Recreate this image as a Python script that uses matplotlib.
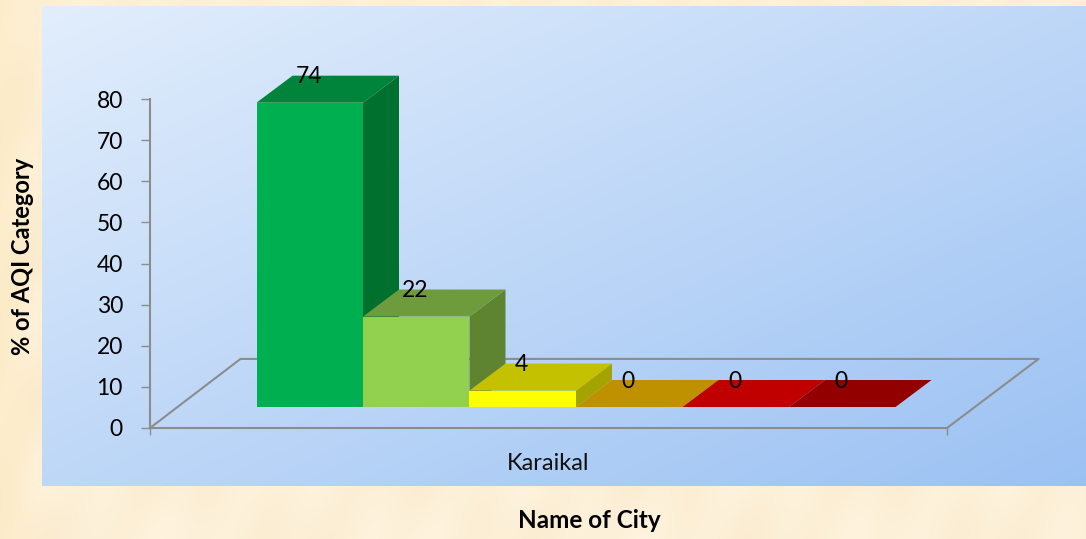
#!/usr/bin/env python3
import numpy as np
import matplotlib
matplotlib.use('Agg')
import matplotlib.pyplot as plt
from matplotlib.patches import Polygon

WIDTH, HEIGHT = 1086, 539

city = ["Karaikal"]
aqi_category = ["Good", "Satisfactory", "Moderate", "Poor", "Very Poor", "Severe"]
aqi_values = [74, 22, 4, 0, 0, 0]
front_colors = ["#00B050", "#92D050", "#FFFF00", "#FFC000", "#FF0000", "#C00000"]
top_colors = ["#00833B", "#6E9C3C", "#C4C200", "#BF9000", "#C00000", "#920000"]
side_colors = ["#00702F", "#5E8431", "#A5A300", "#A67D00", "#A60000", "#7A0000"]
y_ticks = [0, 10, 20, 30, 40, 50, 60, 70, 80]

plt.rcParams['font.family'] = ['Lato', 'DejaVu Sans']


def background(ax):
    # cream page with a soft mottling
    yy, xx = np.mgrid[0:HEIGHT, 0:WIDTH]
    mottle = np.sin(xx / 37.0) * np.sin(yy / 23.0) + 0.6 * np.sin(xx / 11.0 + yy / 29.0)
    left = np.clip(1 - xx / 60.0, 0, 1)
    page = np.zeros((HEIGHT, WIDTH, 3))
    page[..., 0] = 253 + 1.0 * mottle
    page[..., 1] = 240 + 2.0 * mottle - 4 * left
    page[..., 2] = 216 + 4.0 * mottle - 14 * left

    # blue diagonal gradient panel
    x0, x1, y0, y1 = 42, WIDTH, 6, 486
    t = ((xx - x0) / (x1 - x0) + (yy - y0) / (y1 - y0)) / 2
    start = np.array([226, 238, 252])
    end = np.array([155, 193, 243])
    panel = start + t[..., None] * (end - start)
    mask = (xx >= x0) & (yy >= y0) & (yy < y1)
    page[mask] = panel[mask]

    ax.imshow(page.astype(np.uint8), aspect='auto', extent=(0, 1, 0, 1))
    ax.axis('off')


def draw_bars(ax, values):
    # one x unit is one bar width, depth shift is the same for all bars
    depth_x, depth_y = 0.338, 6.57
    base_x, base_y = 1.0, 5.1
    for i, value in enumerate(values):
        x0 = base_x + i
        x1 = x0 + 1
        y0 = base_y
        y1 = base_y + value
        if value > 0:
            ax.add_patch(Polygon([(x0, y0), (x1, y0), (x1, y1), (x0, y1)], fc=front_colors[i], ec='none',
                                 zorder=3 + i, clip_on=False))
            ax.add_patch(Polygon([(x1, y0), (x1 + depth_x, y0 + depth_y), (x1 + depth_x, y1 + depth_y), (x1, y1)],
                                 fc=side_colors[i], ec='none', zorder=3 + i, clip_on=False))
        ax.add_patch(Polygon([(x0, y1), (x1, y1), (x1 + depth_x, y1 + depth_y), (x0 + depth_x, y1 + depth_y)],
                             fc=top_colors[i], ec='none', zorder=3 + i, clip_on=False))
        ax.text(x0 + 0.49, y1 + depth_y - 0.3, str(value), ha='center', va='center', fontsize=16.5,
                color='black', zorder=20)


fig = plt.figure(figsize=(WIDTH / 100, HEIGHT / 100), dpi=100)
bg = fig.add_axes([0, 0, 1, 1])
background(bg)

left, right, bottom, top = 150, 947, 428, 99
ax = fig.add_axes([left / WIDTH, 1 - bottom / HEIGHT, (right - left) / WIDTH, (bottom - top) / HEIGHT])
ax.patch.set_visible(False)
x_max = (right - left) / 106.5
ax.set_xlim(0, x_max)
ax.set_ylim(0, 80)

for name in ['top', 'right']:
    ax.spines[name].set_visible(False)
for name in ['left', 'bottom']:
    ax.spines[name].set_color('#8C8C8C')
    ax.spines[name].set_linewidth(1.5)

ax.set_yticks(y_ticks)
ax.tick_params(axis='y', length=6.5, width=1.0, color='#8C8C8C', labelsize=16.5, labelcolor='black', pad=13)
ax.set_xticks([0, x_max])
ax.set_xticklabels(['', ''])
ax.tick_params(axis='x', which='major', length=5, width=1.0, color='#8C8C8C')
ax.set_xticks([x_max / 2], minor=True)
ax.set_xticklabels(city, minor=True, fontsize=17, color='#111111')
ax.tick_params(axis='x', which='minor', length=0, pad=18)

# floor outline behind the bars
floor_dx, floor_dy = 0.85, 16.8
ax.plot([0, floor_dx, x_max + floor_dx + 0.01, x_max], [0, floor_dy, floor_dy, 0],
        color='#8C8C8C', lw=1.5, clip_on=False, zorder=2)

draw_bars(ax, aqi_values)

fig.text(23 / WIDTH, 1 - 256 / HEIGHT, "% of AQI Category", rotation=90, ha='center', va='center',
         fontsize=17, fontweight='bold')
fig.text(589 / WIDTH, 1 - 520 / HEIGHT, "Name of City", ha='center', va='center',
         fontsize=17.5, fontweight='bold')

fig.savefig('out.png', dpi=100)
plt.close('all')
